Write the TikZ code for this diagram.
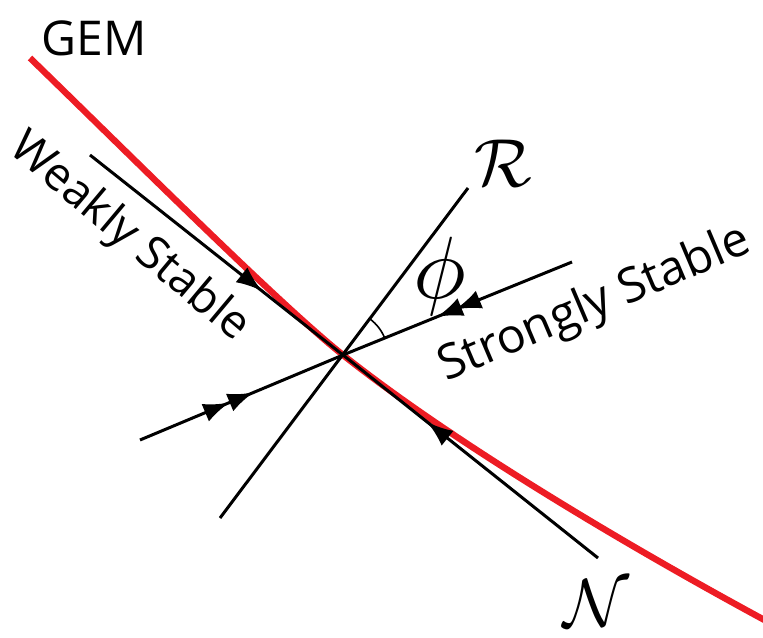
\documentclass[tikz,border=0pt]{standalone}
\usepackage{fontspec}
\setsansfont{Open Sans}
\usetikzlibrary{arrows.meta,decorations.markings}
\definecolor{gemred}{RGB}{237,28,36}

\begin{document}
\begin{tikzpicture}[x=0.5pt, y=0.5pt,
  line/.style={black, line width=1.5pt},
  inflow/.style={postaction={decorate}, decoration={markings,
    mark=at position #1 with {\arrow{Latex[length=13pt,width=9.5pt]}}}},
  twoflow/.style 2 args={postaction={decorate}, decoration={markings,
    mark=at position #1 with {\arrow{Latex[length=13pt,width=9.5pt]}},
    mark=at position #2 with {\arrow{Latex[length=13pt,width=9.5pt]}}}},
  lbl/.style={font=\sffamily\fontsize{24}{28}\selectfont, inner sep=0pt},
  sym/.style={scale=3.4, inner sep=0pt}]

\useasboundingbox (0,0) rectangle (763,637);

% fixed point, the ends of the three lines and of the GEM curve
% (sketch pixels, y measured upwards)
\coordinate (O)      at (343,282);
\coordinate (nTop)   at (90,482);
\coordinate (nBot)   at (598,79);
\coordinate (rTop)   at (468,449);
\coordinate (rBot)   at (220,119);
\coordinate (ssL)    at (140,197);
\coordinate (ssR)    at (572,375);
\coordinate (gemTop) at (30,579);
\coordinate (gemEnd) at (770,14);

% GEM curve, tangent to N at O
\draw[gemred, line width=3.2pt] (gemTop) .. controls (130,482) and (280,332) .. (O)
  .. controls (450,197) and (620,95) .. (gemEnd);

% N direction: weakly stable, one arrow on each side
\draw[line, inflow=0.68] (nTop) -- (O);
\draw[line, inflow=0.67] (nBot) -- (O);

% R direction
\draw[line] (rBot) -- (rTop);

% strongly stable direction, double arrows
\draw[line, twoflow={0.44}{0.56}] (ssL) -- (O);
\draw[line, twoflow={0.51}{0.59}] (ssR) -- (O);

% angle between R and the strongly stable line
\draw[line width=0.8pt] ([shift={(22.1:45)}]O) arc[start angle=22.1, end angle=53.2, radius=45];

% labels
\node[lbl] (gem) at (94,599) {GEM};
\node[lbl, font=\sffamily\fontsize{23}{28}\selectfont, rotate=-40] (weak) at (129,399) {Weakly Stable};
\node[lbl, rotate=23] (strong) at (595,332) {Strongly Stable};
\node[sym] (R) at (503,474) {$\mathcal{R}$};
\node[sym] (N) at (596,34) {$\mathcal{N}$};
\node[sym, scale=1.3] (phi) at (440,361) {$\phi$};

\end{tikzpicture}
\end{document}
